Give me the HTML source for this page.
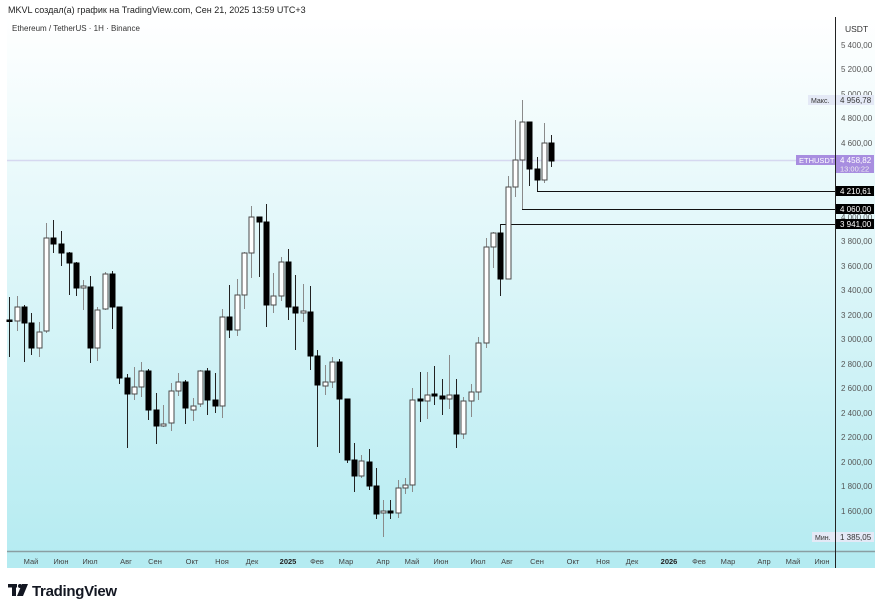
<!DOCTYPE html>
<html><head><meta charset="utf-8"><style>
html,body{margin:0;padding:0;background:#fff;width:882px;height:610px;overflow:hidden;font-family:"Liberation Sans",sans-serif}
svg{position:absolute;left:0;top:0}
.u line{stroke:#8a8a8a;stroke-width:1}
.u rect{fill:#fff;stroke:#4a4a4a;stroke-width:1}
.d line{stroke:#222;stroke-width:1}
.d rect{fill:#000;stroke:#000;stroke-width:1}
.yl{font-size:8px;fill:#555}
.xl{font-size:7.5px;fill:#444;text-anchor:middle}
</style></head><body>
<svg width="882" height="610" viewBox="0 0 882 610">
<defs><linearGradient id="bg" x1="0" y1="0" x2="0" y2="1">
<stop offset="0" stop-color="#ffffff"/><stop offset="1" stop-color="#b4ebf1"/></linearGradient></defs>
<rect x="7" y="17" width="868" height="551" fill="url(#bg)"/>
<rect x="7" y="551" width="868" height="17" fill="#b4ebf1"/>
<line x1="7" y1="551.5" x2="875" y2="551.5" stroke="#8a9ea2" stroke-width="1.5"/>
<line x1="835.5" y1="17" x2="835.5" y2="568" stroke="#222" stroke-width="1"/>
<text x="8" y="13" font-size="9" fill="#222">MKVL создал(а) график на TradingView.com, Сен 21, 2025 13:59 UTC+3</text>
<text x="12" y="31" font-size="8" fill="#333">Ethereum / TetherUS · 1H · Binance</text>
<text x="845" y="32" font-size="8.5" fill="#333">USDT</text>
<line x1="7" y1="160.5" x2="835" y2="160.5" stroke="#d6d8f0" stroke-width="1.5"/>
<g stroke="#111" stroke-width="1" fill="none">
<polyline points="500,224.5 835,224.5"/>
<polyline points="522.5,200 522.5,209.5 835,209.5"/>
<polyline points="537.5,185 537.5,191.5 835,191.5"/>
</g>
<g class="yl">
<text x="841" y="48">5 400,00</text><text x="841" y="72">5 200,00</text><text x="841" y="97">5 000,00</text>
<text x="841" y="121">4 800,00</text><text x="841" y="146">4 600,00</text>
<text x="841" y="244">3 800,00</text><text x="841" y="269">3 600,00</text><text x="841" y="293">3 400,00</text>
<text x="841" y="318">3 200,00</text><text x="841" y="342">3 000,00</text><text x="841" y="367">2 800,00</text>
<text x="841" y="391">2 600,00</text><text x="841" y="416">2 400,00</text><text x="841" y="440">2 200,00</text>
<text x="841" y="465">2 000,00</text><text x="841" y="489">1 800,00</text><text x="841" y="514">1 600,00</text>
</g>
<rect x="808" y="95" width="27" height="10" fill="#e4e9f6"/><text x="811" y="103" font-size="7" fill="#333">Макс.</text>
<rect x="836" y="95" width="38" height="10" fill="#e4e9f6"/><text x="840" y="103" font-size="8" fill="#333">4 956,78</text>
<rect x="796" y="155" width="39" height="10" fill="#a88ee0"/><text x="799" y="163" font-size="7.5" fill="#fff">ETHUSDT</text>
<rect x="836" y="155" width="38" height="18" fill="#a88ee0"/><text x="840" y="163" font-size="8" fill="#fff">4 458,82</text><text x="840" y="171.5" font-size="7.5" fill="#eee">13:00:22</text>
<rect x="836" y="186" width="38" height="10" fill="#000"/><text x="840" y="194" font-size="8" fill="#fff">4 210,61</text>
<text x="841" y="220" font-size="8" fill="#555">4 000,00</text>
<rect x="836" y="204" width="38" height="10" fill="#000"/><text x="840" y="212" font-size="8" fill="#fff">4 060,00</text>
<rect x="836" y="219" width="38" height="10" fill="#000"/><text x="840" y="227" font-size="8" fill="#fff">3 941,00</text>
<rect x="812" y="532" width="23" height="10" fill="#e4e9f6"/><text x="815" y="540" font-size="7" fill="#333">Мин.</text>
<rect x="836" y="532" width="38" height="10" fill="#e4e9f6"/><text x="840" y="540" font-size="8" fill="#333">1 385,05</text>
<g class="xl">
<text x="31" y="564">Май</text><text x="61" y="564">Июн</text><text x="90" y="564">Июл</text><text x="126" y="564">Авг</text><text x="155" y="564">Сен</text>
<text x="192" y="564">Окт</text><text x="222" y="564">Ноя</text><text x="252" y="564">Дек</text><text x="288" y="564" font-weight="bold" fill="#222">2025</text>
<text x="317" y="564">Фев</text><text x="346" y="564">Мар</text><text x="383" y="564">Апр</text><text x="412" y="564">Май</text><text x="441" y="564">Июн</text>
<text x="478" y="564">Июл</text><text x="507" y="564">Авг</text><text x="537" y="564">Сен</text><text x="573" y="564">Окт</text><text x="603" y="564">Ноя</text>
<text x="632" y="564">Дек</text><text x="669" y="564" font-weight="bold" fill="#222">2026</text><text x="699" y="564">Фев</text><text x="728" y="564">Мар</text>
<text x="764" y="564">Апр</text><text x="793" y="564">Май</text><text x="822" y="564">Июн</text>
</g>
<g class="d"><line x1="9.5" y1="297" x2="9.5" y2="357"/><rect x="7" y="320" width="5" height="1.5"/></g>
<g class="u"><line x1="17.5" y1="296" x2="17.5" y2="331"/><rect x="15" y="307" width="5" height="14"/></g>
<g class="d"><line x1="24.5" y1="305" x2="24.5" y2="362"/><rect x="22" y="307" width="5" height="16"/></g>
<g class="d"><line x1="31.5" y1="313" x2="31.5" y2="355"/><rect x="29" y="323" width="5" height="25"/></g>
<g class="u"><line x1="39.5" y1="322" x2="39.5" y2="357"/><rect x="37" y="332" width="5" height="16"/></g>
<g class="u"><line x1="46.5" y1="223" x2="46.5" y2="333"/><rect x="44" y="238" width="5" height="93"/></g>
<g class="d"><line x1="53.5" y1="220" x2="53.5" y2="253"/><rect x="51" y="238" width="5" height="6"/></g>
<g class="d"><line x1="61.5" y1="231" x2="61.5" y2="266"/><rect x="59" y="244" width="5" height="9"/></g>
<g class="d"><line x1="69.5" y1="252" x2="69.5" y2="295"/><rect x="67" y="253" width="5" height="10"/></g>
<g class="d"><line x1="76.5" y1="262" x2="76.5" y2="296"/><rect x="74" y="263" width="5" height="25"/></g>
<g class="u"><line x1="83.5" y1="280" x2="83.5" y2="310"/><rect x="81" y="286" width="5" height="2"/></g>
<g class="d"><line x1="90.5" y1="276" x2="90.5" y2="363"/><rect x="88" y="287" width="5" height="61"/></g>
<g class="u"><line x1="97.5" y1="307" x2="97.5" y2="361"/><rect x="95" y="310" width="5" height="38"/></g>
<g class="u"><line x1="105.5" y1="272" x2="105.5" y2="310"/><rect x="103" y="274" width="5" height="35"/></g>
<g class="d"><line x1="112.5" y1="271" x2="112.5" y2="329"/><rect x="110" y="274" width="5" height="33"/></g>
<g class="d"><line x1="119.5" y1="307" x2="119.5" y2="384"/><rect x="117" y="307" width="5" height="71"/></g>
<g class="d"><line x1="127.5" y1="374" x2="127.5" y2="448"/><rect x="125" y="378" width="5" height="16"/></g>
<g class="u"><line x1="134.5" y1="367" x2="134.5" y2="400"/><rect x="132" y="387" width="5" height="7"/></g>
<g class="u"><line x1="141.5" y1="362" x2="141.5" y2="397"/><rect x="139" y="371" width="5" height="16"/></g>
<g class="d"><line x1="148.5" y1="369" x2="148.5" y2="420"/><rect x="146" y="371" width="5" height="39"/></g>
<g class="d"><line x1="156.5" y1="393" x2="156.5" y2="444"/><rect x="154" y="410" width="5" height="16"/></g>
<g class="u"><line x1="163.5" y1="405" x2="163.5" y2="427"/><rect x="161" y="424" width="5" height="2"/></g>
<g class="u"><line x1="171.5" y1="383" x2="171.5" y2="431"/><rect x="169" y="391" width="5" height="32"/></g>
<g class="u"><line x1="178.5" y1="373" x2="178.5" y2="396"/><rect x="176" y="382" width="5" height="9"/></g>
<g class="d"><line x1="185.5" y1="380" x2="185.5" y2="424"/><rect x="183" y="382" width="5" height="26"/></g>
<g class="u"><line x1="193.5" y1="398" x2="193.5" y2="421"/><rect x="191" y="406" width="5" height="4"/></g>
<g class="u"><line x1="200.5" y1="370" x2="200.5" y2="407"/><rect x="198" y="371" width="5" height="33"/></g>
<g class="d"><line x1="207.5" y1="368" x2="207.5" y2="415"/><rect x="205" y="371" width="5" height="29"/></g>
<g class="d"><line x1="215.5" y1="373" x2="215.5" y2="413"/><rect x="213" y="400" width="5" height="6"/></g>
<g class="u"><line x1="222.5" y1="309" x2="222.5" y2="418"/><rect x="220" y="317" width="5" height="89"/></g>
<g class="d"><line x1="229.5" y1="285" x2="229.5" y2="338"/><rect x="227" y="317" width="5" height="13"/></g>
<g class="u"><line x1="237.5" y1="279" x2="237.5" y2="336"/><rect x="235" y="295" width="5" height="35"/></g>
<g class="u"><line x1="244.5" y1="252" x2="244.5" y2="309"/><rect x="242" y="253" width="5" height="42"/></g>
<g class="u"><line x1="251.5" y1="206" x2="251.5" y2="278"/><rect x="249" y="217" width="5" height="36"/></g>
<g class="d"><line x1="259.5" y1="217" x2="259.5" y2="277"/><rect x="257" y="217" width="5" height="5"/></g>
<g class="d"><line x1="266.5" y1="204" x2="266.5" y2="327"/><rect x="264" y="222" width="5" height="83"/></g>
<g class="u"><line x1="273.5" y1="273" x2="273.5" y2="313"/><rect x="271" y="296" width="5" height="9"/></g>
<g class="u"><line x1="281.5" y1="257" x2="281.5" y2="301"/><rect x="279" y="262" width="5" height="34"/></g>
<g class="d"><line x1="288.5" y1="249" x2="288.5" y2="320"/><rect x="286" y="262" width="5" height="45"/></g>
<g class="d"><line x1="295.5" y1="275" x2="295.5" y2="350"/><rect x="293" y="307" width="5" height="6"/></g>
<g class="u"><line x1="303.5" y1="284" x2="303.5" y2="322"/><rect x="301" y="311" width="5" height="2"/></g>
<g class="d"><line x1="310.5" y1="286" x2="310.5" y2="370"/><rect x="308" y="312" width="5" height="44"/></g>
<g class="d"><line x1="317.5" y1="350" x2="317.5" y2="447"/><rect x="315" y="356" width="5" height="29"/></g>
<g class="u"><line x1="325.5" y1="365" x2="325.5" y2="395"/><rect x="323" y="382" width="5" height="4"/></g>
<g class="u"><line x1="332.5" y1="357" x2="332.5" y2="388"/><rect x="330" y="362" width="5" height="20"/></g>
<g class="d"><line x1="339.5" y1="359" x2="339.5" y2="453"/><rect x="337" y="362" width="5" height="37"/></g>
<g class="d"><line x1="347.5" y1="399" x2="347.5" y2="463"/><rect x="345" y="399" width="5" height="61"/></g>
<g class="d"><line x1="354.5" y1="443" x2="354.5" y2="492"/><rect x="352" y="460" width="5" height="16"/></g>
<g class="u"><line x1="361.5" y1="455" x2="361.5" y2="478"/><rect x="359" y="461" width="5" height="15"/></g>
<g class="d"><line x1="369.5" y1="449" x2="369.5" y2="490"/><rect x="367" y="462" width="5" height="24"/></g>
<g class="d"><line x1="376.5" y1="468" x2="376.5" y2="519"/><rect x="374" y="486" width="5" height="28"/></g>
<g class="u"><line x1="383.5" y1="500" x2="383.5" y2="537"/><rect x="381" y="511" width="5" height="2"/></g>
<g class="d"><line x1="390.5" y1="500" x2="390.5" y2="519"/><rect x="388" y="511" width="5" height="2"/></g>
<g class="u"><line x1="398.5" y1="480" x2="398.5" y2="518"/><rect x="396" y="488" width="5" height="25"/></g>
<g class="u"><line x1="405.5" y1="478" x2="405.5" y2="494"/><rect x="403" y="485" width="5" height="3"/></g>
<g class="u"><line x1="412.5" y1="388" x2="412.5" y2="492"/><rect x="410" y="400" width="5" height="85"/></g>
<g class="d"><line x1="420.5" y1="372" x2="420.5" y2="422"/><rect x="418" y="399" width="5" height="2"/></g>
<g class="u"><line x1="427.5" y1="372" x2="427.5" y2="419"/><rect x="425" y="395" width="5" height="6"/></g>
<g class="d"><line x1="434.5" y1="366" x2="434.5" y2="405"/><rect x="432" y="394" width="5" height="2"/></g>
<g class="d"><line x1="442.5" y1="379" x2="442.5" y2="415"/><rect x="440" y="396" width="5" height="3"/></g>
<g class="u"><line x1="449.5" y1="355" x2="449.5" y2="409"/><rect x="447" y="395" width="5" height="4"/></g>
<g class="d"><line x1="456.5" y1="379" x2="456.5" y2="448"/><rect x="454" y="395" width="5" height="39"/></g>
<g class="u"><line x1="463.5" y1="397" x2="463.5" y2="439"/><rect x="461" y="401" width="5" height="33"/></g>
<g class="u"><line x1="471.5" y1="384" x2="471.5" y2="417"/><rect x="469" y="392" width="5" height="9"/></g>
<g class="u"><line x1="478.5" y1="337" x2="478.5" y2="400"/><rect x="476" y="343" width="5" height="49"/></g>
<g class="u"><line x1="486.5" y1="238" x2="486.5" y2="348"/><rect x="484" y="247" width="5" height="96"/></g>
<g class="u"><line x1="493.5" y1="232" x2="493.5" y2="268"/><rect x="491" y="233" width="5" height="14"/></g>
<g class="d"><line x1="500.5" y1="224" x2="500.5" y2="296"/><rect x="498" y="233" width="5" height="46"/></g>
<g class="u"><line x1="508.5" y1="176" x2="508.5" y2="279"/><rect x="506" y="187" width="5" height="92"/></g>
<g class="u"><line x1="515.5" y1="120" x2="515.5" y2="197"/><rect x="513" y="160" width="5" height="27"/></g>
<g class="u"><line x1="522.5" y1="100" x2="522.5" y2="209"/><rect x="520" y="122" width="5" height="38"/></g>
<g class="d"><line x1="529.5" y1="122" x2="529.5" y2="186"/><rect x="527" y="122" width="5" height="47"/></g>
<g class="d"><line x1="537.5" y1="157" x2="537.5" y2="191"/><rect x="535" y="169" width="5" height="11"/></g>
<g class="u"><line x1="544.5" y1="123" x2="544.5" y2="183"/><rect x="542" y="143" width="5" height="37"/></g>
<g class="d"><line x1="551.5" y1="135" x2="551.5" y2="167"/><rect x="549" y="143" width="5" height="18"/></g>
<g fill="#131722">
<rect x="8" y="584" width="9" height="3.5"/><rect x="12" y="584" width="4" height="12"/>
<circle cx="20" cy="586" r="2"/><polygon points="22,584 28,584 23,596 17,596"/>
</g>
<text x="32" y="596" font-size="15" font-weight="bold" fill="#131722" letter-spacing="-0.3">TradingView</text>
</svg>
</body></html>
